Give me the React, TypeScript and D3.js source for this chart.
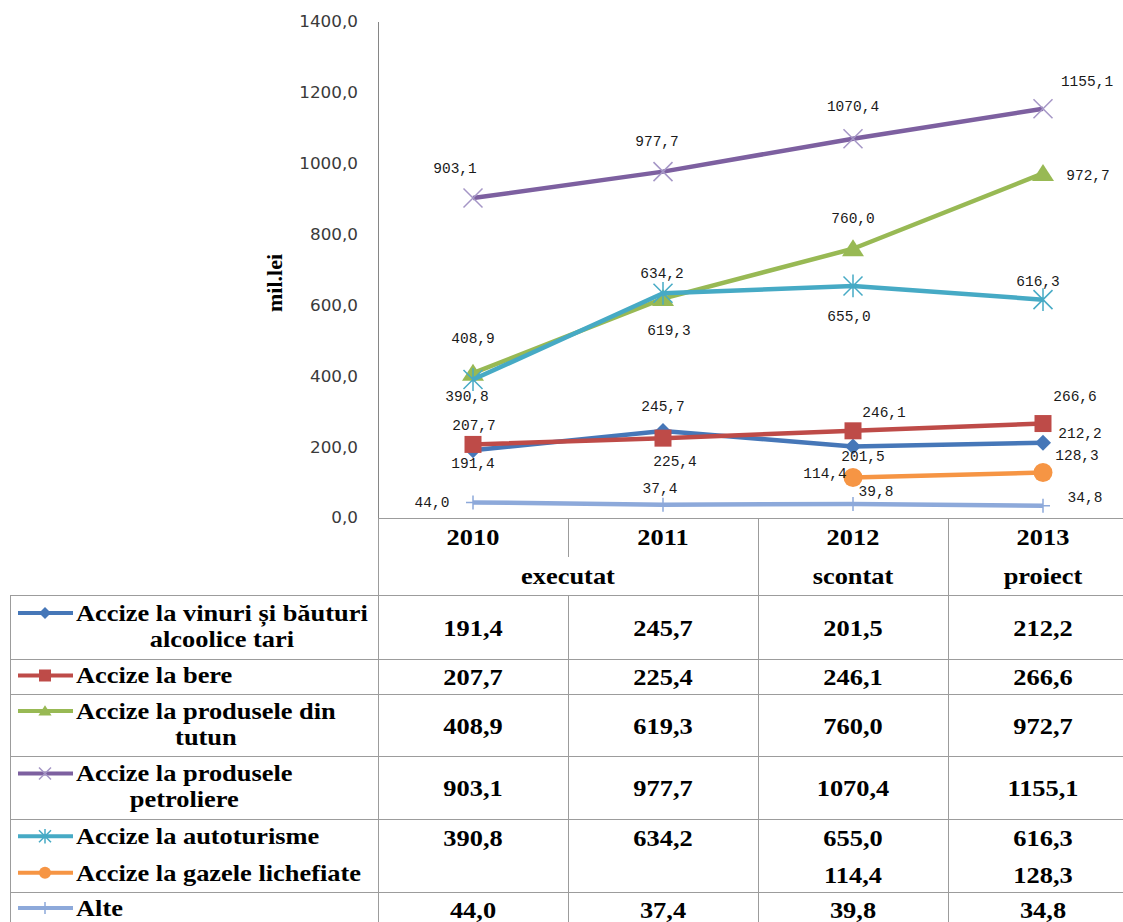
import React from "react";
import * as d3 from "d3";

// ---------------- data ----------------
const years = ["2010", "2011", "2012", "2013"];
const periods = ["executat", "executat", "scontat", "proiect"];
const yTicks = [0, 200, 400, 600, 800, 1000, 1200, 1400];
const yTitle = "mil.lei";

const vinuri = [191.4, 245.7, 201.5, 212.2];
const bere = [207.7, 225.4, 246.1, 266.6];
const tutun = [408.9, 619.3, 760.0, 972.7];
const petroliere = [903.1, 977.7, 1070.4, 1155.1];
const autoturisme = [390.8, 634.2, 655.0, 616.3];
const gazele: (number | null)[] = [null, null, 114.4, 128.3];
const alte = [44.0, 37.4, 39.8, 34.8];

const names = [
  ["Accize la vinuri și băuturi", "alcoolice tari"],
  ["Accize la bere"],
  ["Accize la produsele din", "tutun"],
  ["Accize la produsele", "petroliere"],
  ["Accize la autoturisme"],
  ["Accize la gazele lichefiate"],
  ["Alte"],
];

// ---------------- styles ----------------
type Marker = "diamond" | "square" | "triangle" | "x" | "star" | "circle" | "plus";
const series = [
  { values: vinuri, color: "#4677B8", mColor: "#4677B8", marker: "diamond" as Marker,
    off: [[0, 13], [0, -25], [10, 10], [37, -10]] },
  { values: bere, color: "#BE4B48", mColor: "#BE4B48", marker: "square" as Marker,
    off: [[1, -19], [12, 23], [31, -19], [32, -27]] },
  { values: tutun, color: "#98B954", mColor: "#98B954", marker: "triangle" as Marker,
    off: [[0, -35], [6, 32], [0, -31], [45, 2]] },
  { values: petroliere, color: "#7D60A0", mColor: "#A596C6", marker: "x" as Marker,
    off: [[-18, -30], [-6, -30], [0, -33], [44, -28]] },
  { values: autoturisme, color: "#46AAC5", mColor: "#46AAC5", marker: "star" as Marker,
    off: [[-6, 17], [-1, -20], [-4, 30], [-5, -18]] },
  { values: gazele, color: "#F69544", mColor: "#F69544", marker: "circle" as Marker,
    off: [[0, 0], [0, 0], [-28, -4], [34, -17]] },
  { values: alte, color: "#8DA9DA", mColor: "#8DA9DA", marker: "plus" as Marker,
    off: [[-41, 0], [-3, -17], [23, -13], [42, -8]] },
];

const slotH = [64, 35, 62, 63, 36.5, 36.5, 34];
const noBorderAfter = [false, false, false, false, true, false, true];

const W = 1123;
const H = 922;
const SERIF = '"Liberation Serif"';
const MONO = '"Liberation Mono"';
const SANS = '"DejaVu Sans"';
const SX = 1.1; // horizontal stretch of the bold serif texts
const GRID = "#9C9C9C";

function markerPath(m: Marker, s: number): string {
  const h = s / 2;
  switch (m) {
    case "diamond":
      return `M0,${-h}L${h},0L0,${h}L${-h},0Z`;
    case "square":
      return `M${-h},${-h}H${h}V${h}H${-h}Z`;
    case "triangle":
      return `M0,${-h * 0.95}L${h * 1.1},${h * 0.75}L${-h * 1.1},${h * 0.75}Z`;
    case "x":
      return `M${-h},${-h}L${h},${h}M${-h},${h}L${h},${-h}`;
    case "star":
      return `M${-h},${-h}L${h},${h}M${-h},${h}L${h},${-h}M0,${-h * 1.2}V${h * 1.2}`;
    case "plus":
      return `M0,${-h}V${h}M${-h},0H${h}`;
    case "circle":
      return d3.symbol(d3.symbolCircle, Math.PI * h * h)() as string;
  }
}
const filled = (m: Marker) => m === "diamond" || m === "square" || m === "triangle" || m === "circle";

let measureCtx: CanvasRenderingContext2D | null = null;
function measure(text: string, size: number): number {
  if (!measureCtx) measureCtx = document.createElement("canvas").getContext("2d");
  if (!measureCtx) return text.length * size * 0.45;
  measureCtx.font = `bold ${size}px ${SERIF}`;
  return measureCtx.measureText(text).width * SX;
}

const loc = d3.formatLocale({ decimal: ",", thousands: "", grouping: [3], currency: ["", ""] });
const fmt = loc.format(".1f");

function BoldText(props: { x: number; y: number; size: number; anchor?: "start" | "middle" | "end"; children: React.ReactNode }) {
  const { x, y, size, anchor = "middle", children } = props;
  return (
    <text transform={`translate(${x},${y}) scale(${SX},1)`} textAnchor={anchor} dy="0.33em" fill="#000"
      fontFamily={SERIF} fontWeight="bold" fontSize={size}>{children}</text>
  );
}

export default function App() {
  const x = d3.scaleBand<string>().domain(years).range([378, 1138]).paddingInner(0).paddingOuter(0);
  const y = d3.scaleLinear().domain([0, 1400]).range([518, 22]);
  const cx = (yr: string) => (x(yr) as number) + x.bandwidth() / 2;

  const tableTop = 518;
  const headerBottom = 595;
  const slotTop: number[] = [];
  let acc = headerBottom;
  slotH.forEach((h) => { slotTop.push(acc); acc += h; });
  const tableBottom = H;

  const groups: { label: string; from: number; to: number }[] = [];
  periods.forEach((p, i) => {
    const last = groups[groups.length - 1];
    if (last && last.label === p) last.to = i;
    else groups.push({ label: p, from: i, to: i });
  });

  const markerSize: Record<Marker, number> = {
    diamond: 16, square: 17, triangle: 20, x: 19, star: 19, circle: 19, plus: 14,
  };

  type Pt = { v: number | null; yr: string };
  const lineGen = d3.line<Pt>().defined((d) => d.v != null).x((d) => cx(d.yr)).y((d) => y(d.v as number));

  return (
    <div style={{ position: "absolute", left: 0, top: 0, width: W, height: H, background: "#fff" }}>
      <svg width={W} height={H} style={{ display: "block" }}>
        {/* y axis */}
        <line x1={378.5} x2={378.5} y1={y(1400)} y2={518} stroke="#868686" strokeWidth={1} />
        {yTicks.map((t) => (
          <text key={t} transform={`translate(358,${y(t)}) scale(1.12,1)`} textAnchor="end" dy="0.36em"
            fill="#3a3a3a" fontFamily={SANS} fontSize={15}>{fmt(t)}</text>
        ))}
        <text transform="translate(275,283) rotate(-90)" textAnchor="middle" dy="0.33em"
          fill="#000" fontFamily={SERIF} fontWeight="bold" fontSize={22}>{yTitle}</text>

        {/* table grid */}
        <g stroke={GRID} strokeWidth={1}>
          <line x1={378} x2={W} y1={tableTop + 0.5} y2={tableTop + 0.5} />
          <line x1={10} x2={W} y1={headerBottom + 0.5} y2={headerBottom + 0.5} />
          {slotTop.map((t, i) => noBorderAfter[i] ? null : (
            <line key={i} x1={10} x2={W} y1={t + slotH[i] + 0.5} y2={t + slotH[i] + 0.5} />
          ))}
          <line x1={10.5} x2={10.5} y1={headerBottom} y2={tableBottom} />
          <line x1={378.5} x2={378.5} y1={tableTop} y2={tableBottom} />
          {years.map((yr, i) => {
            if (i === 0) return null;
            const xx = (x(yr) as number) + 0.5;
            return periods[i] === periods[i - 1] ? (
              <g key={yr}>
                <line x1={xx} x2={xx} y1={tableTop} y2={557} />
                <line x1={xx} x2={xx} y1={headerBottom} y2={tableBottom} />
              </g>
            ) : (
              <line key={yr} x1={xx} x2={xx} y1={tableTop} y2={tableBottom} />
            );
          })}
        </g>

        {/* header */}
        {years.map((yr) => (
          <BoldText key={yr} x={cx(yr)} y={537} size={24}>{yr}</BoldText>
        ))}
        {groups.map((g) => {
          const x0 = x(years[g.from]) as number;
          const x1 = (x(years[g.to]) as number) + x.bandwidth();
          return <BoldText key={g.label} x={(x0 + x1) / 2} y={576} size={24}>{g.label}</BoldText>;
        })}

        {/* rows */}
        {series.map((s, i) => {
          const mid = slotTop[i] + slotH[i] / 2;
          const lines = names[i];
          const l1y = lines.length > 1 ? mid - 14 : mid - 1;
          const w1 = measure(lines[0], 24);
          return (
            <g key={i}>
              <BoldText x={76} y={l1y} size={24} anchor="start">{lines[0]}</BoldText>
              {lines.length > 1 && (
                <BoldText x={76 + w1 / 2} y={mid + 12} size={24}>{lines[1]}</BoldText>
              )}
              <line x1={18} x2={73} y1={l1y} y2={l1y} stroke={s.color} strokeWidth={4} />
              <path d={markerPath(s.marker, 12)} transform={`translate(45,${l1y})`}
                fill={filled(s.marker) ? s.mColor : "none"} stroke={s.mColor}
                strokeWidth={filled(s.marker) ? 0 : 1.5} />
              {s.values.map((v, j) => v == null ? null : (
                <BoldText key={j} x={cx(years[j])} y={mid + 1} size={24}>{fmt(v)}</BoldText>
              ))}
            </g>
          );
        })}

        {/* lines and markers */}
        {series.map((s, i) => {
          const pts: Pt[] = s.values.map((v, j) => ({ v, yr: years[j] }));
          return (
            <g key={i}>
              <path d={lineGen(pts) as string} fill="none" stroke={s.color} strokeWidth={4.5}
                strokeLinejoin="round" />
              {pts.map((p, j) => p.v == null ? null : (
                <path key={j} d={markerPath(s.marker, markerSize[s.marker])}
                  transform={`translate(${cx(p.yr)},${y(p.v)})`}
                  fill={filled(s.marker) ? s.mColor : "none"} stroke={s.mColor}
                  strokeWidth={filled(s.marker) ? 0 : 1.5} />
              ))}
            </g>
          );
        })}

        {/* data labels */}
        {series.map((s, i) => (
          <g key={i}>
            {s.values.map((v, j) => {
              if (v == null) return null;
              const [dx, dy] = s.off[j];
              return (
                <text key={j} x={cx(years[j]) + dx} y={y(v) + dy} textAnchor="middle" dy="0.33em"
                  fill="#1a1a1a" fontFamily={MONO} fontSize={14.5}>{fmt(v)}</text>
              );
            })}
          </g>
        ))}
      </svg>
    </div>
  );
}
